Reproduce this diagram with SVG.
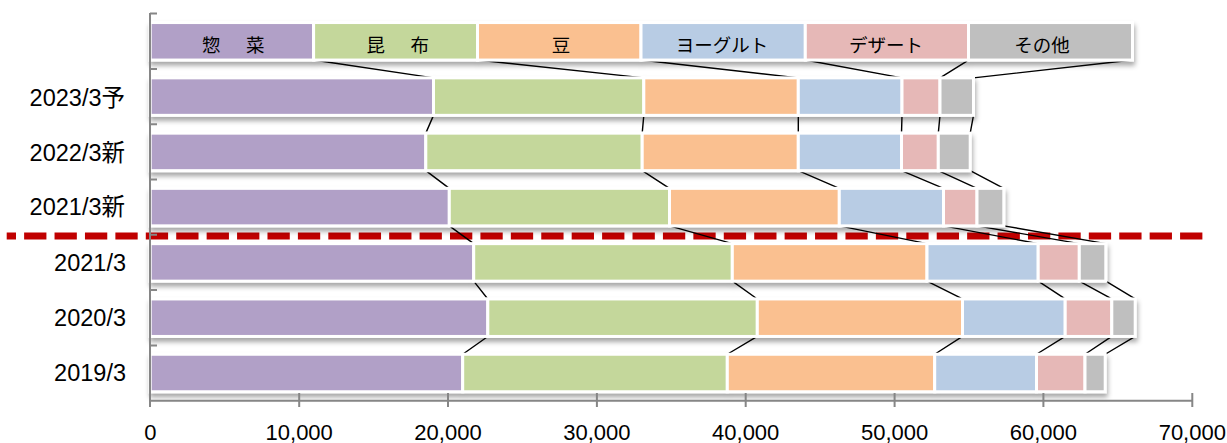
<svg xmlns="http://www.w3.org/2000/svg" width="1227" height="443" viewBox="0 0 1227 443">
<defs>
<filter id="sh" x="-5%" y="-30%" width="110%" height="170%">
<feDropShadow dx="1" dy="4" stdDeviation="2.5" flood-color="#000" flood-opacity="0.35"/>
</filter>
</defs>
<style>
.seg{stroke:#fff;stroke-width:3}
.p{fill:#B1A0C7}.g{fill:#C4D79B}.o{fill:#FAC090}.b{fill:#B8CCE4}.k{fill:#E6B8B7}.y{fill:#BFBFBF}
.ax{stroke:#868686;stroke-width:2;fill:none}
.cn{stroke:#000;stroke-width:1.4;fill:none}
.lbl{font-family:"Liberation Sans","Noto Sans CJK JP",sans-serif;font-size:23.5px;fill:#000}
.xl{font-family:"Liberation Sans",sans-serif;font-size:22px;fill:#000;text-anchor:middle}
.lg{font-family:"Noto Sans CJK JP","Liberation Sans",sans-serif;font-size:18.5px;fill:#000;text-anchor:middle}
</style>
<rect width="1227" height="443" fill="#fff"/>

<line x1="6.7" y1="236" x2="1202.7" y2="236" stroke="#C00000" stroke-width="6.8" stroke-dasharray="22.3 8.12" stroke-dashoffset="13"/>

<g id="connectors" class="cn">
<path d="M313.6 60.05L433.5 77.85M477.5 60.05L643.8 77.85M641 60.05L798.3 77.85M805.3 60.05L902 77.85M968.5 60.05L940 77.85M1132.5 60.05L973.5 77.85"/>
<path d="M433.5 115.35L425.8 133.15M643.8 115.35L642.2 133.15M798.3 115.35L798.3 133.15M902 115.35L901.5 133.15M940 115.35L938.3 133.15M973.5 115.35L970.2 133.15"/>
<path d="M425.8 170.65L449.3 188.35M642.2 170.65L669.5 188.35M798.3 170.65L839.3 188.35M901.5 170.65L943.5 188.35M938.3 170.65L977 188.35M970.2 170.65L1003.8 188.35"/>
<path d="M449.3 225.85L473.7 243.65M669.5 225.85L732.3 243.65M839.3 225.85L927 243.65M943.5 225.85L1038.2 243.65M977 225.85L1079.3 243.65M1003.8 225.85L1105.8 243.65"/>
<path d="M473.7 281.15L487.8 298.95M732.3 281.15L757.3 298.95M927 281.15L962.5 298.95M1038.2 281.15L1065.2 298.95M1079.3 281.15L1111.8 298.95M1105.8 281.15L1135.2 298.95"/>
<path d="M487.8 336.45L462.7 354.25M757.3 336.45L727.3 354.25M962.5 336.45L934.7 354.25M1065.2 336.45L1036.5 354.25M1111.8 336.45L1085 354.25M1135.2 336.45L1105.2 354.25"/>
</g>

<g id="legend" filter="url(#sh)">
<rect class="seg p" x="150.2" y="22.55" width="163.4" height="37.5"/>
<rect class="seg g" x="313.6" y="22.55" width="163.9" height="37.5"/>
<rect class="seg o" x="477.5" y="22.55" width="163.5" height="37.5"/>
<rect class="seg b" x="641" y="22.55" width="164.3" height="37.5"/>
<rect class="seg k" x="805.3" y="22.55" width="163.2" height="37.5"/>
<rect class="seg y" x="968.5" y="22.55" width="164" height="37.5"/>
</g>
<g id="legend-text">
<text class="lg" x="235" y="52" letter-spacing="3.5">惣　菜</text>
<text class="lg" x="399.5" y="52" letter-spacing="3.5">昆　布</text>
<text class="lg" x="561" y="52">豆</text>
<text class="lg" x="722" y="52">ヨーグルト</text>
<text class="lg" x="886" y="52">デザート</text>
<text class="lg" x="1042" y="52">その他</text>
</g>

<g id="row-2023-3yo" filter="url(#sh)">
<rect class="seg p" x="150.2" y="77.85" width="283.3" height="37.5"/>
<rect class="seg g" x="433.5" y="77.85" width="210.3" height="37.5"/>
<rect class="seg o" x="643.8" y="77.85" width="154.5" height="37.5"/>
<rect class="seg b" x="798.3" y="77.85" width="103.7" height="37.5"/>
<rect class="seg k" x="902" y="77.85" width="38" height="37.5"/>
<rect class="seg y" x="940" y="77.85" width="33.5" height="37.5"/>
</g>
<g id="row-2022-3shin" filter="url(#sh)">
<rect class="seg p" x="150.2" y="133.15" width="275.6" height="37.5"/>
<rect class="seg g" x="425.8" y="133.15" width="216.4" height="37.5"/>
<rect class="seg o" x="642.2" y="133.15" width="156.1" height="37.5"/>
<rect class="seg b" x="798.3" y="133.15" width="103.2" height="37.5"/>
<rect class="seg k" x="901.5" y="133.15" width="36.8" height="37.5"/>
<rect class="seg y" x="938.3" y="133.15" width="31.9" height="37.5"/>
</g>
<g id="row-2021-3shin" filter="url(#sh)">
<rect class="seg p" x="150.2" y="188.35" width="299.1" height="37.5"/>
<rect class="seg g" x="449.3" y="188.35" width="220.2" height="37.5"/>
<rect class="seg o" x="669.5" y="188.35" width="169.8" height="37.5"/>
<rect class="seg b" x="839.3" y="188.35" width="104.2" height="37.5"/>
<rect class="seg k" x="943.5" y="188.35" width="33.5" height="37.5"/>
<rect class="seg y" x="977" y="188.35" width="26.8" height="37.5"/>
</g>
<g id="row-2021-3" filter="url(#sh)">
<rect class="seg p" x="150.2" y="243.65" width="323.5" height="37.5"/>
<rect class="seg g" x="473.7" y="243.65" width="258.6" height="37.5"/>
<rect class="seg o" x="732.3" y="243.65" width="194.7" height="37.5"/>
<rect class="seg b" x="927" y="243.65" width="111.2" height="37.5"/>
<rect class="seg k" x="1038.2" y="243.65" width="41.1" height="37.5"/>
<rect class="seg y" x="1079.3" y="243.65" width="26.5" height="37.5"/>
</g>
<g id="row-2020-3" filter="url(#sh)">
<rect class="seg p" x="150.2" y="298.95" width="337.6" height="37.5"/>
<rect class="seg g" x="487.8" y="298.95" width="269.5" height="37.5"/>
<rect class="seg o" x="757.3" y="298.95" width="205.2" height="37.5"/>
<rect class="seg b" x="962.5" y="298.95" width="102.7" height="37.5"/>
<rect class="seg k" x="1065.2" y="298.95" width="46.6" height="37.5"/>
<rect class="seg y" x="1111.8" y="298.95" width="23.4" height="37.5"/>
</g>
<g id="row-2019-3" filter="url(#sh)">
<rect class="seg p" x="150.2" y="354.25" width="312.5" height="37.5"/>
<rect class="seg g" x="462.7" y="354.25" width="264.6" height="37.5"/>
<rect class="seg o" x="727.3" y="354.25" width="207.4" height="37.5"/>
<rect class="seg b" x="934.7" y="354.25" width="101.8" height="37.5"/>
<rect class="seg k" x="1036.5" y="354.25" width="48.5" height="37.5"/>
<rect class="seg y" x="1085" y="354.25" width="20.2" height="37.5"/>
</g>

<g id="axes" class="ax">
<path d="M150 13V407"/>
<path d="M150 13.6H157M150 68.9H157M150 124.2H157M150 179.5H157M150 234.8H157M150 290.1H157M150 345.4H157"/>
<path d="M150 400.7H1192.3"/>
<path d="M299.2 393V407M448 393V407M596.9 393V407M745.7 393V407M894.6 393V407M1043.4 393V407M1192.3 393V407"/>
</g>

<g id="y-labels" class="lbl" text-anchor="end">
<text x="125" y="106">2023/3予</text>
<text x="125" y="161">2022/3新</text>
<text x="125" y="215">2021/3新</text>
<text x="126" y="271">2021/3</text>
<text x="126" y="326">2020/3</text>
<text x="126" y="381">2019/3</text>
</g>

<g id="x-labels" class="xl">
<text x="150.3" y="440">0</text>
<text x="299.2" y="440">10,000</text>
<text x="448" y="440">20,000</text>
<text x="596.9" y="440">30,000</text>
<text x="745.7" y="440">40,000</text>
<text x="894.6" y="440">50,000</text>
<text x="1043.4" y="440">60,000</text>
<text x="1192.3" y="440">70,000</text>
</g>
</svg>
